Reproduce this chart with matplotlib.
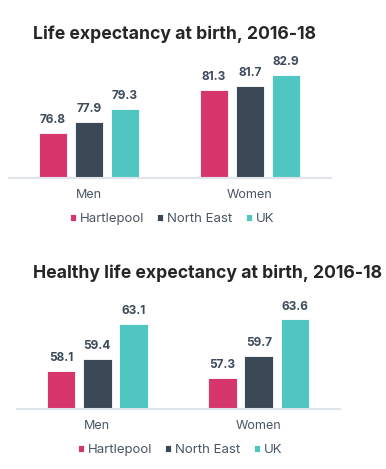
import matplotlib.pyplot as plt
import numpy as np

plt.rcParams['font.family'] = ['Inter', 'DejaVu Sans']

# data
groups = ['Men', 'Women']
areas = ['Hartlepool', 'North East', 'UK']
colors = ['#d6366b', '#3b4856', '#4fc6c1']

life_exp = [[76.8, 81.3], [77.9, 81.7], [79.3, 82.9]]
healthy_exp = [[58.1, 57.3], [59.4, 59.7], [63.1, 63.6]]

W, H = 386, 469
fig = plt.figure(figsize=(W / 100, H / 100), dpi=100)


def px_axes(left, bottom, right, top):
    # pixel box (from top-left) -> figure fraction
    return fig.add_axes([left / W, 1 - bottom / H, (right - left) / W, (bottom - top) / H])


def draw(ax, data, ymin, ymax, title, title_y, legend_x, legend_y):
    x = np.arange(len(groups))
    step = 0.2236
    width = 0.177
    bars = []
    for i, (vals, c) in enumerate(zip(data, colors)):
        b = ax.bar(x + (i - 1) * step, vals, width, color=c, edgecolor='white',
                   linewidth=0.6, label=areas[i], bottom=0)
        bars.append(b)
        for xi, v in zip(x + (i - 1) * step, vals):
            ax.annotate(f'{v:.1f}', (xi, v), xytext=(0, 5), textcoords='offset points',
                        ha='center', va='bottom', fontsize=8.5, fontweight='bold',
                        color='#3d4a5a')
    ax.set_xlim(-0.5, 1.5)
    ax.set_ylim(ymin, ymax)
    ax.set_yticks([])
    ax.set_xticks(x)
    ax.set_xticklabels(groups, fontsize=9, color='#4a5563')
    ax.tick_params(axis='x', length=0, pad=8)
    for s in ['top', 'right', 'left']:
        ax.spines[s].set_visible(False)
    ax.spines['bottom'].set_color('#dfe5ea')
    ax.spines['bottom'].set_linewidth(1.5)
    ax.patch.set_alpha(0)
    fig.text(33 / W, 1 - title_y / H, title, fontsize=12.7, fontweight='bold',
             color='#262626', ha='left', va='center')
    ax.legend(handles=bars, loc='center', bbox_to_anchor=(legend_x / W, 1 - legend_y / H),
              bbox_transform=fig.transFigure, ncol=3, frameon=False, fontsize=9.5,
              handlelength=0.46, handleheight=0.46, handletextpad=0.3, columnspacing=1.0,
              labelcolor='#4a5563', borderpad=0)


ax1 = px_axes(8.5, 178, 330.5, 55)
draw(ax1, life_exp, 72, 85, 'Life expectancy at birth, 2016-18', 34, 172, 219)

ax2 = px_axes(16.5, 409.3, 339.5, 297)
draw(ax2, healthy_exp, 54, 66, 'Healthy life expectancy at birth, 2016-18', 273, 180, 450)

fig.savefig('out.png', dpi=100)
